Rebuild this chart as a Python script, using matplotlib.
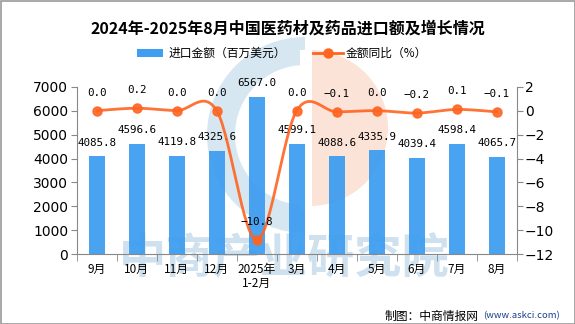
import matplotlib
matplotlib.use("Agg")
import matplotlib.pyplot as plt
import numpy as np
from matplotlib.patches import Rectangle, Wedge, Ellipse

plt.rcParams['font.family'] = ['Noto Sans CJK SC', 'DejaVu Sans']

categories = ['9月', '10月', '11月', '12月', '2025年\n1-2月', '3月', '4月', '5月', '6月', '7月', '8月']
import_value = [4085.8, 4596.6, 4119.8, 4325.6, 6567.0, 4599.1, 4088.6, 4335.9, 4039.4, 4598.4, 4065.7]
yoy = [0.0, 0.2, 0.0, 0.0, -10.8, 0.0, -0.1, 0.0, -0.2, 0.1, -0.1]

bar_color = '#3f9ef0'
line_color = '#ff6420'
axis_color = '#888888'


def smooth(xs, ys, n=30):
    # catmull-rom through the points, only for drawing the smooth line
    xs = np.asarray(xs, float)
    ys = np.asarray(ys, float)
    px = np.concatenate([[xs[0]], xs, [xs[-1]]])
    py = np.concatenate([[ys[0]], ys, [ys[-1]]])
    ox, oy = [], []
    t = np.linspace(0, 1, n)
    for i in range(1, len(px) - 2):
        for p, out in ((px, ox), (py, oy)):
            p0, p1, p2, p3 = p[i - 1], p[i], p[i + 1], p[i + 2]
            m1 = (p2 - p0) / 2
            m2 = (p3 - p1) / 2
            h00 = 2 * t**3 - 3 * t**2 + 1
            h10 = t**3 - 2 * t**2 + t
            h01 = -2 * t**3 + 3 * t**2
            h11 = t**3 - t**2
            out.extend(h00 * p1 + h10 * m1 + h01 * p2 + h11 * m2)
    return np.array(ox), np.array(oy)


fig = plt.figure(figsize=(5.75, 3.24), dpi=100)

# watermark logo and text
wm = fig.add_axes([0, 0, 1, 1], zorder=0)
wm.set_xlim(0, 575)
wm.set_ylim(324, 0)
wm.axis('off')
wm.add_patch(Wedge((305, 135), 98, 90, 270, width=28, facecolor='#d6e7f2', edgecolor='none'))
wm.add_patch(Wedge((310, 128), 78, -90, 90, facecolor='#fbe3d8', edgecolor='none'))
wm.add_patch(Rectangle((300, 50), 12, 160, facecolor='white', edgecolor='none'))
wm.text(284, 258, '中商产业研究院', fontsize=34, fontweight='bold', color='#cfe1ee',
        ha='center', va='center')
wm.add_patch(Rectangle((0.5, 0.5), 574, 323, fill=False, edgecolor='#999999', linewidth=1.2))

ax = fig.add_axes([0.1334, 0.2151, 0.7652, 0.5173], zorder=2)
ax.patch.set_alpha(0)
x = np.arange(len(categories))
bars = ax.bar(x, import_value, width=0.4, color=bar_color, alpha=0.95, zorder=2)
ax.set_ylim(0, 7000)
ax.set_xlim(-0.5, len(categories) - 0.5)
ax.set_yticks(np.arange(0, 7001, 1000))
ax.set_xticks(x)
ax.set_xticklabels(categories, fontsize=8.5, linespacing=1.1)
ax.set_xticks(np.arange(-0.5, len(categories), 1), minor=True)
ax.tick_params(axis='x', which='major', length=0, pad=6)
ax.tick_params(axis='x', which='minor', length=5, color=axis_color)
ax.tick_params(axis='y', length=4, color=axis_color, labelsize=10, pad=2)
for lab in ax.get_yticklabels():
    lab.set_family('DejaVu Sans')
for s in ('top', 'right'):
    ax.spines[s].set_visible(False)
for s in ('left', 'bottom'):
    ax.spines[s].set_color(axis_color)

for xi, v in zip(x, import_value):
    ax.annotate(f'{v:.1f}', (xi, v), xytext=(0, 10), textcoords='offset points',
                ha='center', va='center', fontsize=7.8, family='DejaVu Sans Mono', zorder=5)

ax2 = ax.twinx()
ax2.set_zorder(3)
ax2.set_ylim(-12, 2)
ax2.set_yticks(np.arange(-12, 3, 2))
ax2.tick_params(axis='y', length=4, color=axis_color, labelsize=10, pad=2)
for lab in ax2.get_yticklabels():
    lab.set_family('DejaVu Sans')
for s in ('top', 'left', 'bottom'):
    ax2.spines[s].set_visible(False)
ax2.spines['right'].set_color(axis_color)

sx, sy = smooth(x, yoy)
ax2.plot(sx, sy, color=line_color, linewidth=2, alpha=0.9, solid_capstyle='round')
ax2.plot(x, yoy, 'o', color=line_color, markersize=6.5, alpha=0.9)
for xi, v in zip(x, yoy):
    ax2.annotate(f'{v:.1f}'.replace('-', '−'), (xi, v), xytext=(0, 13), textcoords='offset points',
                 ha='center', va='center', fontsize=7.8, family='DejaVu Sans Mono')

fig.text(0.5, 0.912, '2024年-2025年8月中国医药材及药品进口额及增长情况', ha='center', va='center',
         fontsize=11.5, fontweight='bold')

# legend
fig.patches.append(Rectangle((137 / 575, 1 - 57 / 324), 26 / 575, 8 / 324,
                             transform=fig.transFigure, facecolor=bar_color, edgecolor='none'))
fig.text(169 / 575, 1 - 53 / 324, '进口金额（百万美元）', ha='left', va='center', fontsize=8.5)
fig.lines.append(plt.Line2D([313 / 575, 343 / 575], [1 - 53 / 324, 1 - 53 / 324],
                            transform=fig.transFigure, color=line_color, linewidth=2,
                            marker='o', markevery=[0], markersize=0))
fig.lines.append(plt.Line2D([328 / 575], [1 - 53 / 324], transform=fig.transFigure,
                            color=line_color, marker='o', markersize=6.5))
fig.text(346 / 575, 1 - 53 / 324, '金额同比（%）', ha='left', va='center', fontsize=8.5)

fig.text(385 / 575, 1 - 316 / 324, '制图：中商情报网', ha='left', va='center', fontsize=8.5)
fig.text(483 / 575, 1 - 316 / 324, '(www.askci.com)', ha='left', va='center', fontsize=6.8,
         color='#1a3f8a')

fig.savefig('out.png', dpi=100)
